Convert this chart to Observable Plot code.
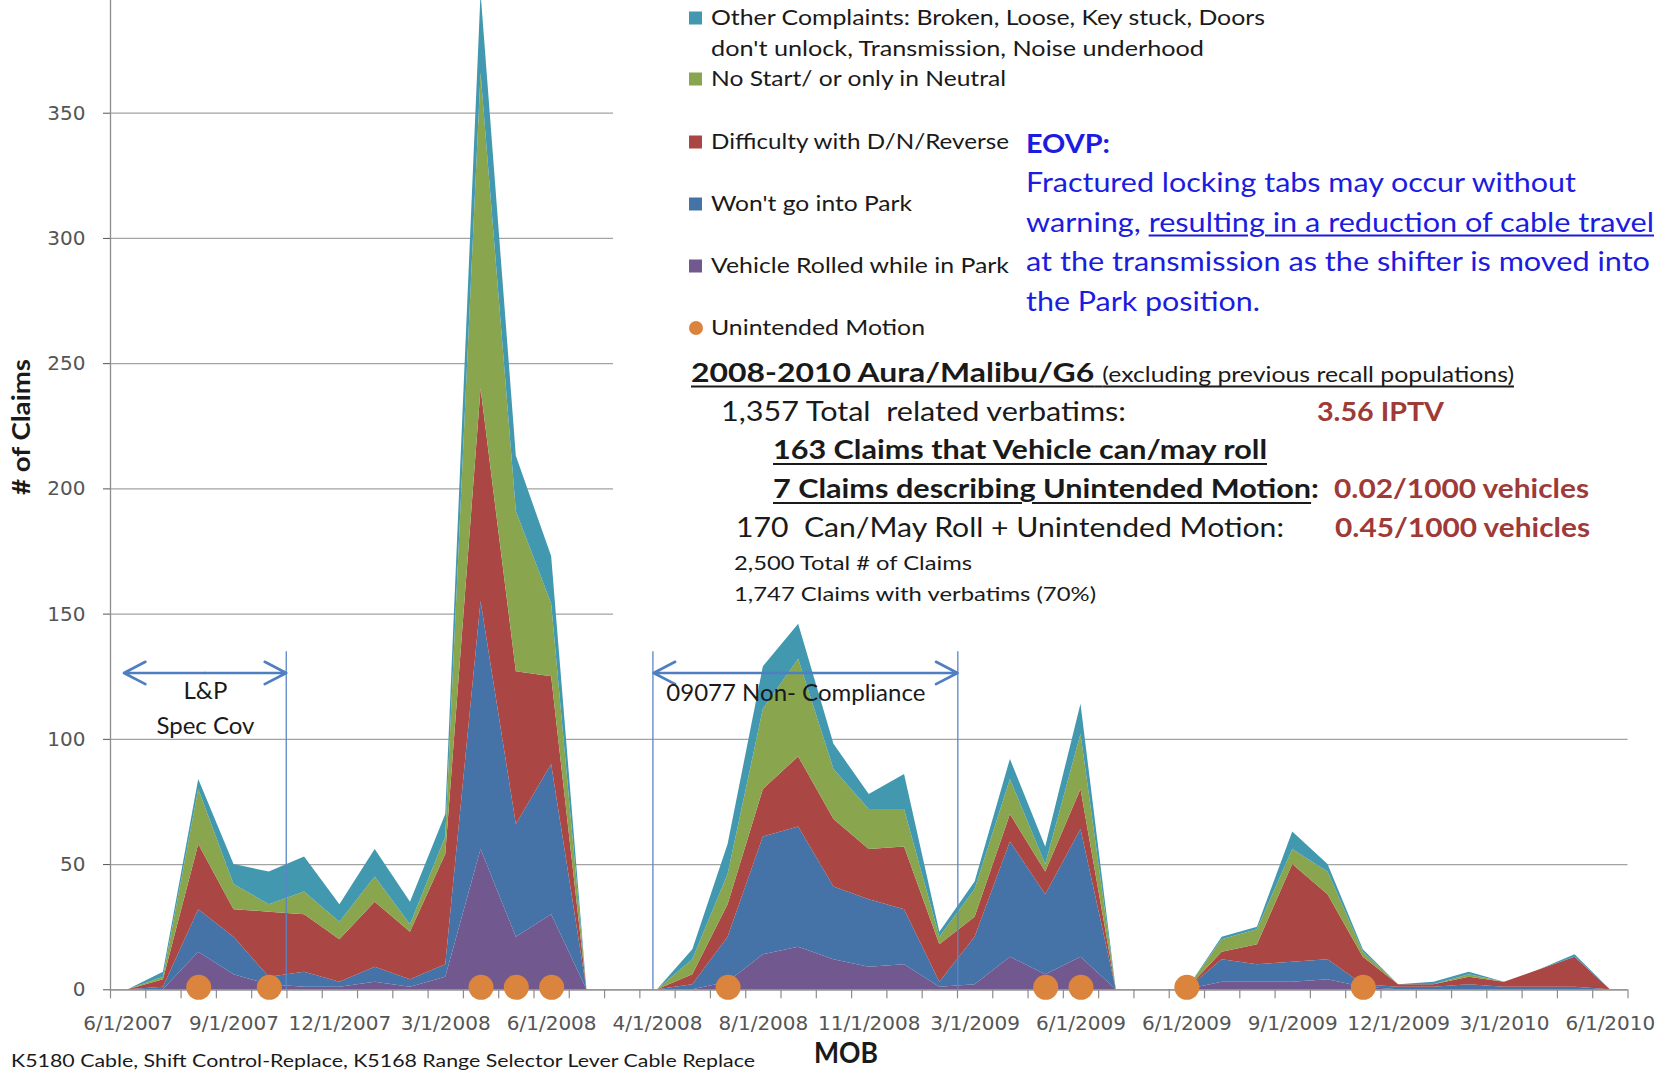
<!DOCTYPE html>
<html><head><meta charset="utf-8">
<script src="https://cdn.jsdelivr.net/npm/d3@7"></script>
<script src="https://cdn.jsdelivr.net/npm/@observablehq/plot@0.6"></script>
<style>
html,body{margin:0;padding:0;background:#fff;}
#wrap{position:relative;width:1673px;height:1071px;overflow:hidden;font-family:Lato,"Open Sans",sans-serif;background:#fff;}
#wrap svg{position:absolute;left:0;top:0;}
.t{position:absolute;white-space:nowrap;line-height:1;transform-origin:0 50%;transform:translateY(-50%);color:#1a1a1a;}
.box{position:absolute;background:#fff;}
.sw{position:absolute;width:13px;height:13px;transform:translateY(-50%);}
</style></head><body><div id="wrap"></div>
<script>
// ---------------- data ----------------
const seriesNames = ["Vehicle Rolled while in Park", "Won't go into Park", "Difficulty with D/N/Reverse", "No Start/ or only in Neutral", "Other Complaints"];
const seriesColors = ["#71588F", "#4572A7", "#AA4643", "#89A54E", "#4198AF"];
const motionColor = "#DB843D";

// one value per MOB category (43 categories, three build periods separated by empty months)
const vehicleRolled  = [0,0,15,6,2,1,1,3,1,5,56,21,30,0, 0, 0,0,3,14,17,12,9,10,1,2,13,6,13,0, 0, 0,3,3,3,4,1,0,0,0,0,0,0,0];
const wontGoPark     = [0,1,17,15,3,6,2,6,3,5,99,45,60,0, 0, 0,2,18,47,48,29,27,22,2,19,46,32,51,0, 0, 0,9,7,8,8,1,1,1,2,1,1,1,0];
const difficultyDNR  = [0,3,26,11,26,23,17,26,19,44,85,61,35,0, 0, 0,4,13,19,28,27,20,25,15,8,11,9,16,0, 0, 0,3,8,39,26,11,1,1,3,2,7,12,0];
const noStart        = [0,1,22,10,3,9,7,10,3,7,126,64,29,0, 0, 0,6,12,32,39,20,16,15,3,11,14,3,22,0, 0, 0,5,6,6,9,2,0,0,1,0,0,0,0];
const otherComplaint = [0,2,4,8,13,14,7,11,9,9,32,22,19,0, 0, 0,4,12,17,14,10,6,14,2,3,8,7,12,0, 0, 0,1,1,7,3,1,0,1,1,0,0,1,0];
const seriesValues = [vehicleRolled, wontGoPark, difficultyDNR, noStart, otherComplaint];

// categories with an "Unintended Motion" claim (marker) and its count
const unintendedMotionAt = [2,4,10,11,12,17,26,27,30,35];
const unintendedMotionCount = [1,1,1,1,1,1,1,1,1,1];

// x tick labels (every third category)
const xTickLabels = ["6/1/2007","9/1/2007","12/1/2007","3/1/2008","6/1/2008","4/1/2008","8/1/2008","11/1/2008","3/1/2009","6/1/2009","6/1/2009","9/1/2009","12/1/2009","3/1/2010","6/1/2010"];
const yTicks = [0,50,100,150,200,250,300,350];

// campaign spans (category units)
const spans = [
  {from: -0.12, to: 4.48, at: 126.5},
  {from: 14.89, to: 23.5, at: 126.5}
];
const spanLines = [4.48, 14.87, 23.51];
const spanLabelsCentered = [
  {x: 2.19, y: 119.2, text: "L&P"},
  {x: 2.19, y: 105.1, text: "Spec Cov"}
];
const spanLabelsLeft = [
  {x: 15.25, y: 118.3, text: "09077 Non- Compliance"}
];

// ---------------- build ----------------
const nCat = vehicleRolled.length;
const long = [];
seriesNames.forEach((s, k) => seriesValues[k].forEach((v, i) => long.push({i, s, v})));
const motion = unintendedMotionAt.map((i, k) => ({i, v: unintendedMotionCount[k]}));
const xTickPos = xTickLabels.map((_, k) => k * 3);
const boundaries = d3.range(-0.5, nCat, 1);

const W = 1673, H = 1071;
const chart = Plot.plot({
  width: W, height: H,
  marginLeft: 110, marginRight: 45.5, marginTop: 0, marginBottom: 81.7,
  style: {fontFamily: "DejaVu Sans", fontSize: "20px", color: "#555", background: "transparent"},
  x: {type: "linear", domain: [-0.5, nCat - 0.5], ticks: xTickPos, tickFormat: d => xTickLabels[d / 3], tickSize: 0, tickPadding: 26, label: null},
  y: {domain: [0, 395], ticks: yTicks, tickSize: 7, tickPadding: 18, label: null, tickFormat: d => d},
  color: {domain: seriesNames, range: seriesColors},
  marks: [
    Plot.ruleY(yTicks, {stroke: "#a3a3a3", strokeWidth: 1.3}),
    Plot.areaY(long, {x: "i", y: "v", z: "s", fill: "s", order: seriesNames, curve: "linear"}),
    Plot.ruleY([0], {stroke: "#8c8c8c", strokeWidth: 1.3}),
    Plot.ruleX([-0.5], {stroke: "#8c8c8c", strokeWidth: 1.3}),
    Plot.ruleX(boundaries, {y1: 0, y2: -3.6, stroke: "#8c8c8c", strokeWidth: 1.2}),
    Plot.ruleX(spanLines, {y1: 0, y2: 135, stroke: "#5b86c5", strokeWidth: 1.3}),
    Plot.arrow(spans, {x1: d => (d.from + d.to) / 2, x2: "from", y1: "at", y2: "at", bend: 0, stroke: "#4f7fc0", strokeWidth: 2.6, headLength: 14, headAngle: 55}),
    Plot.arrow(spans, {x1: d => (d.from + d.to) / 2, x2: "to", y1: "at", y2: "at", bend: 0, stroke: "#4f7fc0", strokeWidth: 2.6, headLength: 14, headAngle: 55}),
    Plot.text(spanLabelsCentered, {x: "x", y: "y", text: "text", textAnchor: "middle", fontFamily: "Lato", fontSize: 24, fill: "#1a1a1a"}),
    Plot.text(spanLabelsLeft, {x: "x", y: "y", text: "text", textAnchor: "start", fontFamily: "Lato", fontSize: 24, fill: "#1a1a1a"}),
    Plot.dot(motion, {x: "i", y: "v", r: 12.5, fill: motionColor, stroke: "none"})
  ]
});
const wrap = document.getElementById("wrap");
wrap.appendChild(chart);

// ---------------- overlay text ----------------
function box(x, y, w, h) { const d = document.createElement("div"); d.className = "box"; Object.assign(d.style, {left: x+"px", top: y+"px", width: w+"px", height: h+"px"}); wrap.appendChild(d); }
const fits = [];
function txt(x, y, html, size, opts = {}) {
  const d = document.createElement("div"); d.className = "t";
  d.style.left = x + "px"; d.style.top = y + "px"; d.style.fontSize = size + "px";
  if (opts.weight) d.style.fontWeight = opts.weight;
  if (opts.color) d.style.color = opts.color;
  d.innerHTML = html; wrap.appendChild(d);
  if (opts.w) fits.push([d, opts.w, opts.rot]);
  return d;
}
function swatch(x, y, color, round) { const d = document.createElement("div"); d.className = "sw"; Object.assign(d.style, {left: x+"px", top: y+"px", background: color}); if (round) {d.style.borderRadius = "50%"; d.style.width = "14px"; d.style.height = "14px";} wrap.appendChild(d); }

box(613, 0, 1060, 618);

// legend
const legendRows = [
  {label: "Other Complaints: Broken, Loose, Key stuck, Doors", y: 18, w: 554, c: 4},
  {label: "don't unlock, Transmission, Noise underhood", y: 49, w: 493, c: -1},
  {label: "No Start/ or only in Neutral", y: 79, w: 295, c: 3},
  {label: "Difficulty with D/N/Reverse", y: 142, w: 298, c: 2},
  {label: "Won't go into Park", y: 204, w: 201, c: 1},
  {label: "Vehicle Rolled while in Park", y: 266, w: 298, c: 0},
  {label: "Unintended Motion", y: 328, w: 214, c: 5}
];
legendRows.forEach(r => {
  if (r.c >= 0 && r.c < 5) swatch(689, r.y, seriesColors[r.c]);
  if (r.c === 5) swatch(689, r.y, motionColor, true);
  txt(711, r.y, r.label, 21.5, {w: r.w});
});

// EOVP note
const blue = "#1c1ce0";
txt(1026, 142, "EOVP:", 27, {weight: 700, color: blue, w: 84});
txt(1026, 181, "Fractured locking tabs may occur without", 27, {color: blue, w: 550});
txt(1026, 221, "warning, <u style='text-underline-offset:3px'>resulting in a reduction of cable travel</u>", 27, {color: blue, w: 628});
txt(1026, 260, "at the transmission as the shifter is moved into", 27, {color: blue, w: 624});
txt(1026, 300, "the Park position.", 27, {color: blue, w: 234});

// population summary
const red = "#9e3a37";
const ul = "text-decoration:underline;text-decoration-thickness:2px;text-underline-offset:4px;";
txt(691, 371, `<span style="${ul}"><b>2008-2010 Aura/Malibu/G6</b> <span style="font-size:21px">(excluding previous recall populations)</span></span>`, 27, {w: 823});
txt(721, 411, "1,357 Total&nbsp; related verbatims:", 26, {w: 405});
txt(1317, 411, "3.56 IPTV", 26, {weight: 700, color: red, w: 127});
txt(773, 449, `<span style="${ul}">163 Claims that Vehicle can/may roll</span>`, 26, {weight: 700, w: 494});
txt(773, 488, `<span style="${ul}">7 Claims describing Unintended Motion</span>:`, 26, {weight: 700, w: 546});
txt(1334, 488, "0.02/1000 vehicles", 26, {weight: 700, color: red, w: 255});
txt(736, 527, "170&nbsp; Can/May Roll + Unintended Motion:", 26, {w: 548});
txt(1335, 527, "0.45/1000 vehicles", 26, {weight: 700, color: red, w: 255});
txt(734, 562, "2,500 Total # of Claims", 20, {w: 238});
txt(734, 593, "1,747 Claims with verbatims (70%)", 20, {w: 362});

// axis titles and caption
txt(846, 1052, "MOB", 28, {weight: 700, w: 64}).dataset.center = "1";
txt(21, 427, "# of Claims", 24, {weight: 700, w: 136, rot: true});
txt(11, 1060, "K5180 Cable, Shift Control-Replace, K5168 Range Selector Lever Cable Replace", 18, {w: 744});

fits.forEach(([d, w, rot]) => {
  const r = d.getBoundingClientRect().width;
  const s = w / r;
  if (rot) {
    d.style.transformOrigin = "50% 50%";
    d.style.left = (21 - r / 2) + "px";
    d.style.transform = `translateY(-50%) rotate(-90deg) scaleX(${s})`;
  } else if (d.dataset.center) {
    d.style.left = (846 - w / 2) + "px";
    d.style.transform = `translateY(-50%) scaleX(${s})`;
  } else {
    d.style.transform = `translateY(-50%) scaleX(${s})`;
  }
});
</script></body></html>
